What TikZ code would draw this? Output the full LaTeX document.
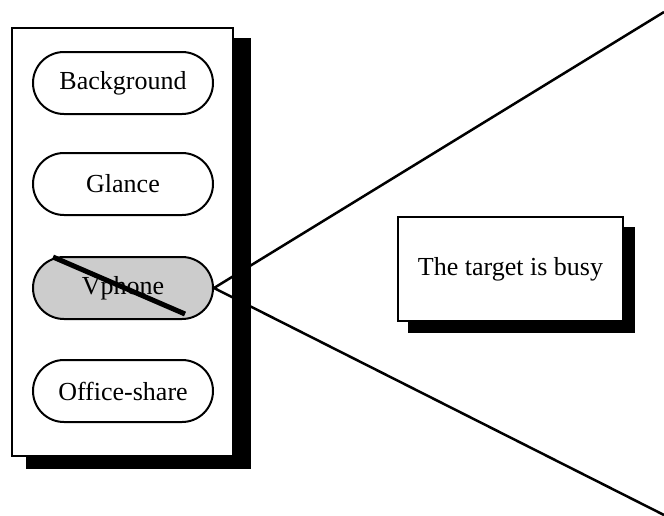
\documentclass[tikz,border=0pt]{standalone}
\usepackage{fontspec}
\setmainfont{Liberation Serif}
\usetikzlibrary{calc}
\begin{document}
\begin{tikzpicture}[x=1pt,y=-1pt,
  shadowfill/.style={fill=black},
  framebox/.style={draw=black, line width=2pt, fill=white, inner sep=0pt, outer sep=0pt},
  pill/.style={draw=black, line width=2pt, fill=white, rounded corners=31pt,
    minimum width=180pt, minimum height=62pt, inner sep=0pt,
    font=\fontsize{26}{30}\selectfont},
  ray/.style={line width=2.5pt},
  strike/.style={line width=5pt}]
\useasboundingbox (0,0) rectangle (664,515);

% menu panel with drop shadow
\fill[shadowfill] (26,38) rectangle (251,469);
\node[framebox, minimum width=221pt, minimum height=428pt] (panel) at (122.5,242) {};

% menu entries
\node[pill] (background) at (123,83) {Background};
\node[pill] (glance) at (123,184) {Glance};
\node[pill, fill=black!20] (vphone) at (123,288) {Vphone};
\node[pill] (officeshare) at (123,391) {Office-share};

% crossed-out entry
\coordinate (s1) at ($(vphone.center)+(-70,-31)$);
\coordinate (s2) at ($(vphone.center)+(62,26)$);
\draw[strike] (s1) -- (s2);

% callout rays
\coordinate (raytop) at (664,12);
\coordinate (raybot) at (664,515);
\draw[ray] (vphone.east) -- (raytop);
\draw[ray] (vphone.east) -- (raybot);

% message box with drop shadow
\fill[shadowfill] (408,227) rectangle (635,333);
\node[framebox, minimum width=225pt, minimum height=104pt,
  font=\fontsize{26}{30}\selectfont] (message) at (510.5,269) {The target is busy};
\end{tikzpicture}
\end{document}
